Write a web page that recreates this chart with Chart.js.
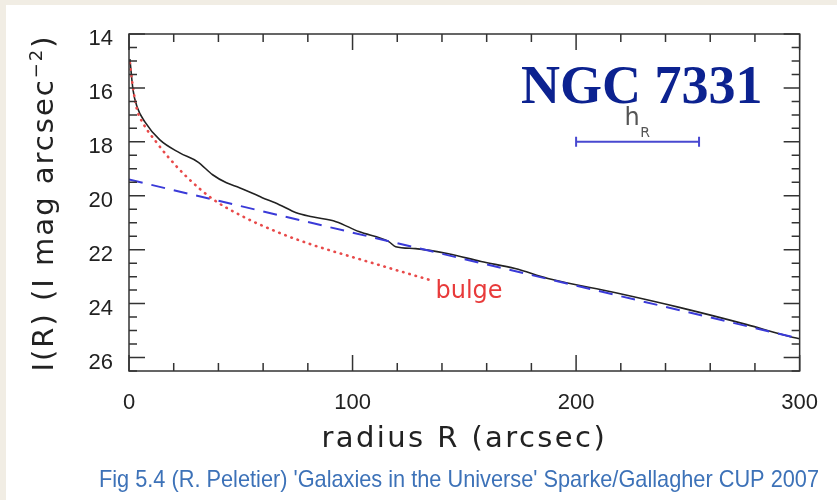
<!DOCTYPE html>
<html>
<head>
<meta charset="utf-8">
<script src="https://cdn.jsdelivr.net/npm/chart.js@4.4.1/dist/chart.umd.min.js"></script>
<style>
  html, body { margin: 0; padding: 0; background: #f1ede4; }
  #wrap { width: 837px; height: 500px; position: relative; }
</style>
</head>
<body>
<div id="wrap"><canvas id="profileChart" width="837" height="500"></canvas></div>
<script>
// surface brightness profile of NGC 7331
var radiusObs = [0.4, 1.8, 3.6, 7.1, 13.8, 22.7, 30.7, 37.4, 43.6, 49.4, 59.6, 67.2, 74.8, 81.9, 92.6, 102.8, 116.2, 119.3, 128.2, 142.9, 157.5, 172.7, 187.4, 217.2, 246.6, 276.4, 295.5, 300];
var magObs = [14.93, 16.07, 16.70, 17.26, 17.93, 18.41, 18.74, 19.22, 19.52, 19.70, 20.07, 20.33, 20.63, 20.78, 20.96, 21.33, 21.70, 21.89, 21.96, 22.15, 22.44, 22.70, 23.07, 23.59, 24.15, 24.78, 25.22, 25.30];

var radiusBulge = [0.4, 1.8, 3.6, 6.2, 12.5, 16.9, 25.8, 37.4, 50.7, 65.9, 80.6, 105.9, 134];
var magBulge = [15.07, 16.0, 16.81, 17.30, 18.04, 18.50, 19.30, 20.12, 20.76, 21.33, 21.78, 22.42, 23.11];

var radiusDisk = [0, 300];
var magDisk = [19.4, 25.3];

var barRadius = [200, 255];
var barMag = [18, 18];

var xTicks = [0, 100, 200, 300];
var yTicks = [14, 16, 18, 20, 22, 24, 26];

function pts(xs, ys) {
  return xs.map(function (x, i) { return { x: x, y: ys[i] }; });
}

// frame, inward ticks, titles and labels
var decor = {
  id: 'decor',
  beforeDraw: function (chart) {
    var c = chart.ctx;
    c.save();
    c.fillStyle = '#f1ede4';
    c.fillRect(0, 0, chart.width, chart.height);
    c.fillStyle = '#ffffff';
    c.fillRect(6, 5, chart.width - 6, chart.height - 5);
    c.restore();
  },
  afterDatasetsDraw: function (chart) {
    var c = chart.ctx, xs = chart.scales.x, ys = chart.scales.y, a = chart.chartArea;
    c.save();
    c.strokeStyle = '#333';
    c.lineWidth = 1.5;
    c.strokeRect(a.left, a.top, a.right - a.left, a.bottom - a.top);

    c.beginPath();
    for (var r = 0; r <= 300; r += 20) {
      var px = xs.getPixelForValue(r);
      var len = (r % 100 === 0) ? 16 : 8;
      c.moveTo(px, a.bottom); c.lineTo(px, a.bottom - len);
      c.moveTo(px, a.top); c.lineTo(px, a.top + len);
    }
    for (var m = 14; m <= 26.5; m += 0.5) {
      var py = ys.getPixelForValue(m);
      var l2 = (m % 2 === 0) ? 16 : 8;
      c.moveTo(a.left, py); c.lineTo(a.left + l2, py);
      c.moveTo(a.right, py); c.lineTo(a.right - l2, py);
    }
    c.stroke();

    // NGC 7331
    c.fillStyle = '#0c2290';
    c.font = 'bold 54px "Liberation Serif", serif';
    c.textBaseline = 'alphabetic';
    c.fillText('NGC 7331', xs.getPixelForValue(175.3), ys.getPixelForValue(16.56));

    // h_R
    c.fillStyle = '#555';
    c.font = '24px "DejaVu Sans", sans-serif';
    c.fillText('h', xs.getPixelForValue(221.6), ys.getPixelForValue(17.37));
    c.font = '14px "DejaVu Sans", sans-serif';
    c.fillText('R', xs.getPixelForValue(228.7), ys.getPixelForValue(17.81));

    // bulge
    c.fillStyle = '#e83a3a';
    c.font = '24px "DejaVu Sans", sans-serif';
    c.fillText('bulge', xs.getPixelForValue(137.1), ys.getPixelForValue(23.78));
    c.restore();
  },
  afterDraw: function (chart) {
    var c = chart.ctx, a = chart.chartArea;
    c.save();
    c.fillStyle = '#222';
    c.font = '29px "DejaVu Sans", sans-serif';
    c.letterSpacing = '2.4px';
    c.textAlign = 'center';
    c.textBaseline = 'alphabetic';
    c.fillText('radius R (arcsec)', (a.left + a.right) / 2, 447);

    // y title, rotated, with superscript
    c.translate(53, 203);
    c.rotate(-Math.PI / 2);
    c.textAlign = 'left';
    c.letterSpacing = '2px';
    var main = 'I(R) (I mag arcsec';
    var big = '29px "DejaVu Sans", sans-serif';
    var small = '18px "DejaVu Sans", sans-serif';
    c.font = big;
    var w1 = c.measureText(main).width;
    var w3 = c.measureText(')').width;
    c.font = small;
    var w2 = c.measureText('\u22122').width;
    var x0 = -(w1 + w2 + w3) / 2;
    c.font = big;
    c.fillText(main, x0, 0);
    c.font = small;
    c.fillText('\u22122', x0 + w1, -11);
    c.font = big;
    c.fillText(')', x0 + w1 + w2, 0);
    c.restore();

    // caption
    c.save();
    c.fillStyle = '#3d72b8';
    c.font = '24px "Liberation Sans Narrow", "Liberation Sans", sans-serif';
    var cap = "Fig 5.4 (R. Peletier) 'Galaxies in the Universe' Sparke/Gallagher CUP 2007";
    var cw = c.measureText(cap).width;
    c.translate(99, 487);
    c.scale(720 / cw, 1);
    c.fillText(cap, 0, 0);
    c.restore();
  }
};

var ctx = document.getElementById('profileChart').getContext('2d');
var profileChart = new Chart(ctx, {
  type: 'line',
  data: {
    datasets: [
      {
        label: 'bulge',
        data: pts(radiusBulge, magBulge),
        borderColor: '#e84a4a',
        borderWidth: 2.6,
        borderDash: [0.5, 6],
        borderCapStyle: 'round',
        pointRadius: 0,
        cubicInterpolationMode: 'monotone'
      },
      {
        label: 'disk',
        data: pts(radiusDisk, magDisk),
        borderColor: '#3a3ad8',
        borderWidth: 2,
        borderDash: [14, 9],
        pointRadius: 0
      },
      {
        label: 'profile',
        data: pts(radiusObs, magObs),
        borderColor: '#222',
        borderWidth: 1.6,
        pointRadius: 0,
        cubicInterpolationMode: 'monotone'
      },
      {
        label: 'hR',
        data: pts(barRadius, barMag),
        borderColor: '#4848d0',
        borderWidth: 2,
        pointStyle: 'line',
        rotation: 90,
        pointRadius: 5,
        pointBorderColor: '#4848d0',
        pointBorderWidth: 2
      }
    ]
  },
  options: {
    responsive: false,
    animation: false,
    events: [],
    layout: { padding: { left: 0, right: 34, top: 34, bottom: 0 } },
    plugins: {
      legend: { display: false },
      tooltip: { enabled: false }
    },
    scales: {
      x: {
        type: 'linear',
        min: 0,
        max: 300,
        afterBuildTicks: function (scale) {
          scale.ticks = xTicks.map(function (v) { return { value: v }; });
        },
        afterFit: function (scale) { scale.height = 129; },
        grid: { display: false, drawTicks: false },
        border: { display: false },
        ticks: {
          padding: 19,
          color: '#222',
          font: { family: '"Liberation Sans", sans-serif', size: 22 },
          maxRotation: 0
        }
      },
      y: {
        type: 'linear',
        reverse: true,
        min: 14,
        max: 26.5,
        afterBuildTicks: function (scale) {
          scale.ticks = yTicks.map(function (v) { return { value: v }; });
        },
        afterFit: function (scale) { scale.width = 129; },
        grid: { display: false, drawTicks: false },
        border: { display: false },
        ticks: {
          padding: 16,
          labelOffset: 5,
          color: '#222',
          font: { family: '"Liberation Sans", sans-serif', size: 22 }
        }
      }
    }
  },
  plugins: [decor]
});
</script>
</body>
</html>
